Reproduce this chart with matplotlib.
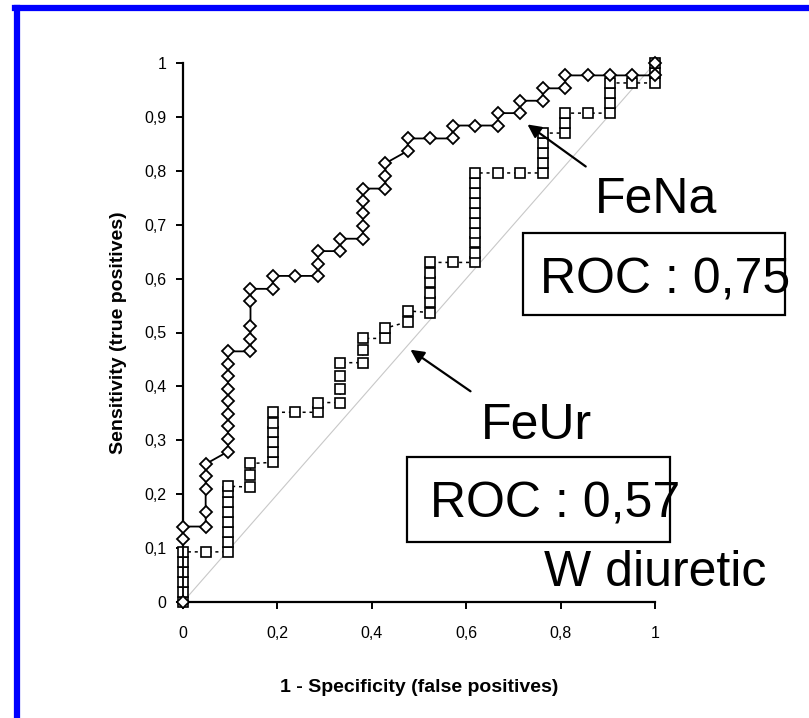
import matplotlib
matplotlib.use("Agg")
import matplotlib.pyplot as plt
from matplotlib.lines import Line2D

plt.rcParams['font.family'] = ['Liberation Sans', 'DejaVu Sans']

# FeNa curve (1 - specificity, sensitivity)
fena_fpr = [0.0, 0.0, 0.0,
            0.048, 0.048, 0.048, 0.048, 0.048,
            0.095, 0.095, 0.095, 0.095, 0.095, 0.095, 0.095, 0.095, 0.095,
            0.143, 0.143, 0.143, 0.143, 0.143,
            0.190, 0.190, 0.238,
            0.286, 0.286, 0.286,
            0.333, 0.333,
            0.381, 0.381, 0.381, 0.381, 0.381,
            0.429, 0.429, 0.429,
            0.476, 0.476, 0.524,
            0.571, 0.571, 0.619,
            0.667, 0.667, 0.714, 0.714,
            0.762, 0.762, 0.810, 0.810,
            0.857, 0.905, 0.952, 1.0, 1.0]
fena_tpr = [0.0, 0.116, 0.140,
            0.140, 0.167, 0.209, 0.233, 0.256,
            0.279, 0.302, 0.326, 0.349, 0.372, 0.395, 0.419, 0.442, 0.465,
            0.465, 0.488, 0.512, 0.558, 0.581,
            0.581, 0.605, 0.605,
            0.605, 0.628, 0.651,
            0.651, 0.674,
            0.674, 0.698, 0.721, 0.744, 0.767,
            0.767, 0.791, 0.814,
            0.837, 0.860, 0.860,
            0.860, 0.884, 0.884,
            0.884, 0.907, 0.907, 0.930,
            0.930, 0.953, 0.953, 0.977,
            0.977, 0.977, 0.977, 0.977, 1.0]

# FeUr curve
feur_fpr = [0.0, 0.0, 0.0, 0.0, 0.0, 0.0,
            0.048,
            0.095, 0.095, 0.095, 0.095, 0.095, 0.095, 0.095, 0.095,
            0.143, 0.143, 0.143,
            0.190, 0.190, 0.190, 0.190, 0.190, 0.190,
            0.238,
            0.286, 0.286,
            0.333, 0.333, 0.333, 0.333,
            0.381, 0.381, 0.381,
            0.429, 0.429,
            0.476, 0.476,
            0.524, 0.524, 0.524, 0.524, 0.524, 0.524,
            0.571,
            0.619, 0.619, 0.619, 0.619, 0.619, 0.619, 0.619, 0.619, 0.619, 0.619,
            0.667, 0.714,
            0.762, 0.762, 0.762, 0.762, 0.762,
            0.810, 0.810, 0.810,
            0.857,
            0.905, 0.905, 0.905, 0.905,
            0.952,
            1.0, 1.0, 1.0]
feur_tpr = [0.0, 0.019, 0.037, 0.056, 0.074, 0.093,
            0.093,
            0.093, 0.111, 0.130, 0.148, 0.167, 0.185, 0.204, 0.215,
            0.213, 0.235, 0.257,
            0.259, 0.278, 0.296, 0.315, 0.333, 0.352,
            0.352,
            0.352, 0.370,
            0.370, 0.395, 0.420, 0.444,
            0.444, 0.467, 0.489,
            0.489, 0.508,
            0.520, 0.540,
            0.537, 0.556, 0.574, 0.593, 0.611, 0.630,
            0.630,
            0.630, 0.648, 0.667, 0.685, 0.704, 0.722, 0.741, 0.759, 0.778, 0.796,
            0.796, 0.796,
            0.796, 0.815, 0.833, 0.852, 0.870,
            0.870, 0.889, 0.907,
            0.907,
            0.907, 0.926, 0.944, 0.963,
            0.963,
            0.963, 0.981, 1.0]

xticks = [0, 0.2, 0.4, 0.6, 0.8, 1]
xticklabels = ['0', '0,2', '0,4', '0,6', '0,8', '1']
yticks = [0, 0.1, 0.2, 0.3, 0.4, 0.5, 0.6, 0.7, 0.8, 0.9, 1]
yticklabels = ['0', '0,1', '0,2', '0,3', '0,4', '0,5', '0,6', '0,7', '0,8', '0,9', '1']

W, H = 809, 718
fig = plt.figure(figsize=(W / 100, H / 100), dpi=100)
ax = fig.add_axes([183 / W, (H - 602) / H, 472 / W, 539 / H])

ax.plot([0, 1], [0, 1], color='#c8c8c8', lw=0.8, zorder=1)
ax.plot(feur_fpr, feur_tpr, color='black', lw=1.1, ls=(0, (2, 2.5)),
        marker='s', ms=7, mfc='white', mec='black', mew=1.2, clip_on=False, zorder=3)
ax.plot(fena_fpr, fena_tpr, color='black', lw=1.3, ls='-',
        marker='D', ms=6.2, mfc='white', mec='black', mew=1.3, clip_on=False, zorder=4)

ax.set_xlim(0, 1)
ax.set_ylim(0, 1)
for s in ['top', 'right']:
    ax.spines[s].set_visible(False)
for s in ['left', 'bottom']:
    ax.spines[s].set_linewidth(1.6)
ax.set_xticks(xticks)
ax.set_xticklabels(xticklabels)
ax.set_yticks(yticks)
ax.set_yticklabels(yticklabels)
ax.tick_params(direction='out', length=5, width=1.4, labelsize=11.5, pad=12)
ax.tick_params(axis='y', pad=7)
ax.set_xlabel('1 - Specificity (false positives)', fontsize=14, fontweight='bold', labelpad=28)
ax.set_ylabel('Sensitivity (true positives)', fontsize=14, fontweight='bold', labelpad=12)

big = dict(fontsize=36, color='black')

def fx(px):
    return px / W

def fy(py):
    return 1 - py / H

# annotations, placed in pixel coordinates of the figure
fig.text(fx(656), fy(213), 'FeNa', ha='center', va='baseline', **big)
fig.text(fx(540), fy(293), 'ROC : 0,75', ha='left', va='baseline', **big)
fig.add_artist(plt.Rectangle((fx(523), fy(315)), fx(785) - fx(523), fy(233) - fy(315),
                             transform=fig.transFigure, fill=False, ec='black', lw=1.6))
fig.text(fx(536), fy(439), 'FeUr', ha='center', va='baseline', **big)
fig.text(fx(430), fy(517), 'ROC : 0,57', ha='left', va='baseline', **big)
fig.add_artist(plt.Rectangle((fx(407), fy(542)), fx(670) - fx(407), fy(457) - fy(542),
                             transform=fig.transFigure, fill=False, ec='black', lw=1.6))
fig.text(fx(655), fy(586), 'W diuretic', ha='center', va='baseline', **big)

ax.annotate('', xy=(0.725, 0.889), xytext=(0.858, 0.805), xycoords='data',
            arrowprops=dict(arrowstyle='-|>', color='black', lw=1.6, mutation_scale=20),
            annotation_clip=False)
ax.annotate('', xy=(0.477, 0.471), xytext=(0.614, 0.388), xycoords='data',
            arrowprops=dict(arrowstyle='-|>', color='black', lw=1.6, mutation_scale=20),
            annotation_clip=False)

# blue frame (only left and top edges inside the picture)
fig.add_artist(Line2D([fx(17), fx(17)], [0, fy(8)], color='#0000ff', lw=4.5))
fig.add_artist(Line2D([fx(15), 1], [fy(8), fy(8)], color='#0000ff', lw=4.5))

fig.savefig('out.png', dpi=100)
